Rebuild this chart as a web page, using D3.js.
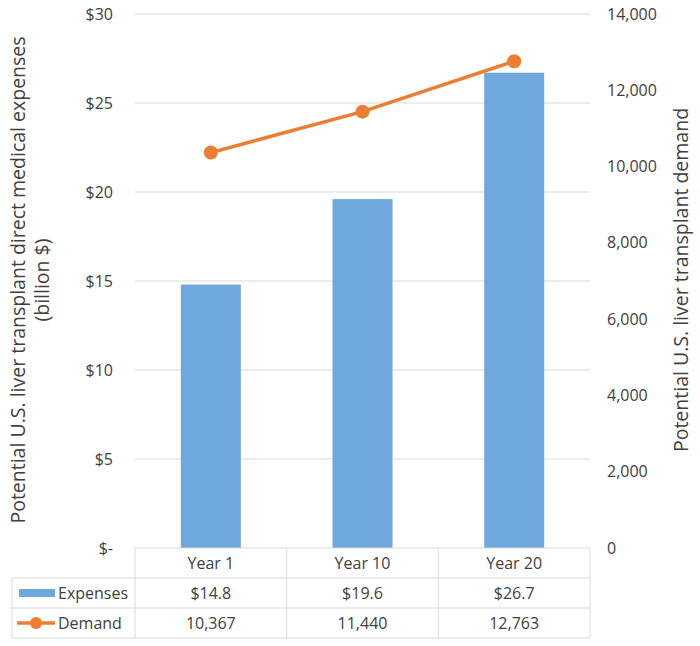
<!DOCTYPE html>
<html>
<head>
<meta charset="utf-8">
<script src="https://cdn.jsdelivr.net/npm/d3@7"></script>
<style>
  body { margin: 0; background: #fff; }
  text { font-family: "Open Sans", sans-serif; fill: #404040; }
</style>
</head>
<body>
<script>
var width = 700;
var height = 646;

// data
var categories = ["Year 1", "Year 10", "Year 20"];
var expenses = [14.8, 19.6, 26.7];
var demand = [10367, 11440, 12763];
var expenseLabels = ["$14.8", "$19.6", "$26.7"];
var demandLabels = ["10,367", "11,440", "12,763"];
var leftTicks = [0, 5, 10, 15, 20, 25, 30];
var rightTicks = [0, 2000, 4000, 6000, 8000, 10000, 12000, 14000];

var plotLeft = 135, plotRight = 590, plotTop = 14, plotBottom = 548;
var rowH = 30;
var legendLeft = 12;

var svg = d3.select('body').append('svg').attr('width', width).attr('height', height);

var x = d3.scaleBand().domain(categories).range([plotLeft, plotRight]);
var yL = d3.scaleLinear().domain([0, 30]).range([plotBottom, plotTop]);
var yR = d3.scaleLinear().domain([0, 14000]).range([plotBottom, plotTop]);

// gridlines
svg.append("g").selectAll("line").data(leftTicks.slice(1)).enter().append("line")
  .attr("x1", plotLeft).attr("x2", plotRight)
  .attr("y1", function (d) { return yL(d); }).attr("y2", function (d) { return yL(d); })
  .attr("stroke", "#d9d9d9").attr("stroke-width", 1);

// left axis labels
svg.append("g").selectAll("text").data(leftTicks).enter().append("text")
  .attr("x", 113).attr("y", function (d) { return yL(d); })
  .attr("dy", "0.35em").attr("text-anchor", "end").style("font-size", "16px")
  .text(function (d) { return d === 0 ? "$-" : "$" + d; });

// right axis labels
svg.append("g").selectAll("text").data(rightTicks).enter().append("text")
  .attr("x", 607).attr("y", function (d) { return yR(d); })
  .attr("dy", "0.35em").attr("text-anchor", "start").style("font-size", "16px")
  .text(function (d) { return d3.format(",")(d); });

// bars
var barW = 60;
svg.append("g").selectAll("rect").data(expenses).enter().append("rect")
  .attr("x", function (d, i) { return x(categories[i]) + x.bandwidth() / 2 - barW / 2; })
  .attr("y", function (d) { return yL(d); })
  .attr("width", barW)
  .attr("height", function (d) { return plotBottom - yL(d); })
  .attr("fill", "#6fa8dc");

// line
var line = d3.line()
  .x(function (d, i) { return x(categories[i]) + x.bandwidth() / 2; })
  .y(function (d) { return yR(d); });
svg.append("path").datum(demand).attr("d", line)
  .attr("fill", "none").attr("stroke", "#ed7d31").attr("stroke-width", 3.5);
svg.append("g").selectAll("circle").data(demand).enter().append("circle")
  .attr("cx", function (d, i) { return x(categories[i]) + x.bandwidth() / 2; })
  .attr("cy", function (d) { return yR(d); })
  .attr("r", 7).attr("fill", "#ed7d31");

// data table
var grid = "#d9d9d9";
var table = svg.append("g");
var rowsY = [plotBottom, plotBottom + rowH, plotBottom + 2 * rowH, plotBottom + 3 * rowH];
// horizontal lines
table.append("line").attr("x1", plotLeft).attr("x2", plotRight).attr("y1", rowsY[0]).attr("y2", rowsY[0]).attr("stroke", grid);
[1, 2, 3].forEach(function (r) {
  table.append("line").attr("x1", legendLeft).attr("x2", plotRight).attr("y1", rowsY[r]).attr("y2", rowsY[r]).attr("stroke", grid);
});
// vertical lines
table.append("line").attr("x1", legendLeft).attr("x2", legendLeft).attr("y1", rowsY[1]).attr("y2", rowsY[3]).attr("stroke", grid);
categories.forEach(function (c) {
  table.append("line").attr("x1", x(c)).attr("x2", x(c)).attr("y1", rowsY[0]).attr("y2", rowsY[3]).attr("stroke", grid);
});
table.append("line").attr("x1", plotRight).attr("x2", plotRight).attr("y1", rowsY[0]).attr("y2", rowsY[3]).attr("stroke", grid);

function cellText(texts, r) {
  table.append("g").selectAll("text").data(texts).enter().append("text")
    .attr("x", function (d, i) { return x(categories[i]) + x.bandwidth() / 2; })
    .attr("y", rowsY[r] + rowH / 2).attr("dy", "0.35em")
    .attr("text-anchor", "middle").style("font-size", "16px")
    .text(function (d) { return d; });
}
cellText(categories, 0);
cellText(expenseLabels, 1);
cellText(demandLabels, 2);

// legend keys
table.append("rect").attr("x", 19).attr("y", rowsY[1] + rowH / 2 - 4).attr("width", 36).attr("height", 8).attr("fill", "#6fa8dc");
table.append("text").attr("x", 58).attr("y", rowsY[1] + rowH / 2).attr("dy", "0.35em").style("font-size", "16px").text("Expenses");
table.append("line").attr("x1", 17).attr("x2", 55).attr("y1", rowsY[2] + rowH / 2).attr("y2", rowsY[2] + rowH / 2)
  .attr("stroke", "#ed7d31").attr("stroke-width", 3.5);
table.append("circle").attr("cx", 36).attr("cy", rowsY[2] + rowH / 2).attr("r", 6).attr("fill", "#ed7d31");
table.append("text").attr("x", 58).attr("y", rowsY[2] + rowH / 2).attr("dy", "0.35em").style("font-size", "16px").text("Demand");

// axis titles
var midY = 280;
svg.append("text").attr("transform", "translate(18," + midY + ") rotate(-90)")
  .attr("text-anchor", "middle").attr("dy", "0.35em").style("font-size", "19.5px")
  .text("Potential U.S. liver transplant direct medical expenses");
svg.append("text").attr("transform", "translate(42," + midY + ") rotate(-90)")
  .attr("text-anchor", "middle").attr("dy", "0.35em").style("font-size", "19.5px")
  .text("(billion $)");
svg.append("text").attr("transform", "translate(681," + midY + ") rotate(-90)")
  .attr("text-anchor", "middle").attr("dy", "0.35em").style("font-size", "19.5px")
  .text("Potential U.S. liver transplant demand");
</script>
</body>
</html>
